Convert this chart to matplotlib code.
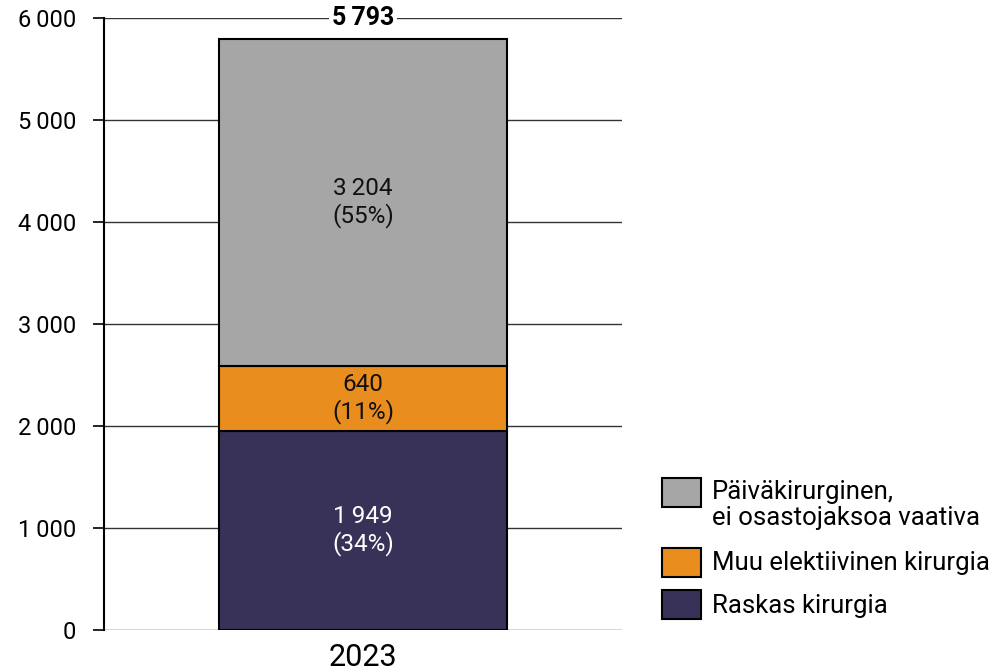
import matplotlib
matplotlib.use("Agg")
import matplotlib.pyplot as plt
from matplotlib.patches import Rectangle

plt.rcParams['font.family'] = ['Roboto', 'DejaVu Sans']

categories = ["2023"]
series_names = ["Raskas kirurgia", "Muu elektiivinen kirurgia",
                "Päiväkirurginen,\nei osastojaksoa vaativa"]
series_values = [[1949], [640], [3204]]
series_pct = [[34], [11], [55]]
series_colors = ["#393258", "#e98e1e", "#a6a6a6"]
label_colors = ["white", "#111111", "#111111"]
yticks = [0, 1000, 2000, 3000, 4000, 5000, 6000]


def fmt(v):
    return f"{v:,}".replace(",", "\u2009")


fig = plt.figure(figsize=(9.94, 6.7), dpi=100)
ax = fig.add_axes([104/994, 1-630/670, (622-104)/994, (630-18)/670])

bottoms = [0]*len(categories)
for vals, pcts, col, lc in zip(series_values, series_pct, series_colors, label_colors):
    ax.bar(range(len(categories)), vals, bottom=bottoms, width=0.556,
           color=col, edgecolor="black", linewidth=1.5, zorder=3)
    for i, (v, p) in enumerate(zip(vals, pcts)):
        ax.text(i, bottoms[i] + v/2, f"{fmt(v)}\n({p}%)", ha="center", va="center",
                fontsize=17.5, color=lc, zorder=4, linespacing=1.15)
    bottoms = [b + v for b, v in zip(bottoms, vals)]

for i, t in enumerate(bottoms):
    ax.text(i, 6000, fmt(t), ha="center", va="center", fontsize=18,
            fontweight="bold", zorder=5,
            bbox=dict(boxstyle="square,pad=0.12", fc="white", ec="none"))

ax.set_xlim(-0.5, 0.5)
ax.set_ylim(0, 6000)
ax.set_yticks(yticks)
ax.set_yticklabels([fmt(v) for v in yticks], fontsize=17)
ax.set_xticks(range(len(categories)))
ax.set_xticklabels(categories, fontsize=22)
ax.tick_params(axis="x", length=0, pad=9)
ax.tick_params(axis="y", length=8, width=1.2, pad=12)
ax.grid(axis="y", color="#333333", linewidth=1, zorder=0)
ax.set_axisbelow(True)
for s in ["top", "right", "bottom"]:
    ax.spines[s].set_visible(False)
ax.spines["left"].set_linewidth(1.5)
ax.spines["left"].set_zorder(2)

# legend (manual)
leg_items = [(series_names[2], series_colors[2], 478, 495),
             (series_names[1], series_colors[1], 548, 563),
             (series_names[0], series_colors[0], 590, 606)]
for name, col, ytop, ytext in leg_items:
    fig.add_artist(Rectangle((662/994, 1-(ytop+29)/670), 39/994, 29/670,
                             transform=fig.transFigure, facecolor=col,
                             edgecolor="black", linewidth=1.5))
    if "\n" in name:
        fig.text(712/994, 1-480/670, name, ha="left", va="top",
                 fontsize=18.5, linespacing=1.12)
    else:
        fig.text(712/994, 1-ytext/670, name, ha="left", va="center",
                 fontsize=18.5)

fig.savefig("out.png", dpi=100)
